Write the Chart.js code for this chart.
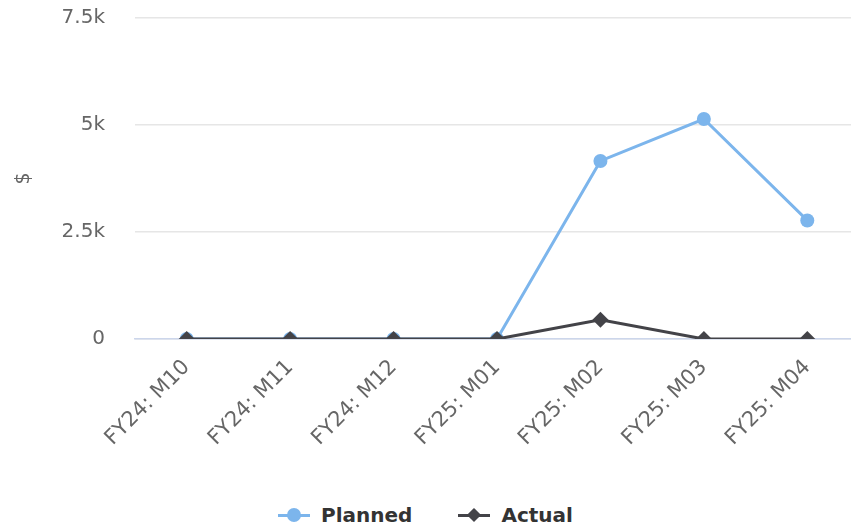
<!DOCTYPE html>
<html>
<head>
<meta charset="utf-8">
<script src="https://cdn.jsdelivr.net/npm/chart.js@4/dist/chart.umd.min.js"></script>
<style>
    body { margin: 0; background: #ffffff; overflow: hidden; }
    #wrap { position: relative; width: 851px; height: 531px; overflow: hidden; }
    /* canvas is a bit larger than the page so the plot area lands where the reference has it */
    #chartBox { position: absolute; left: 0; top: -24px; width: 867px; height: 504px; }
    #legend {
        position: absolute; left: 0; top: 503px; width: 851px;
        display: flex; justify-content: center; gap: 46px;
        font-family: "DejaVu Sans", sans-serif; font-weight: bold; font-size: 20px; color: #333333;
    }
    .item { display: flex; align-items: center; }
    .icon { position: relative; width: 32px; height: 3px; margin-right: 11px; }
    .mark { position: absolute; left: 50%; top: 50%; }
    .circle { width: 14px; height: 14px; border-radius: 50%; margin: -7px 0 0 -7px; }
    .diamond { width: 10px; height: 10px; margin: -5px 0 0 -5px; transform: rotate(45deg); }
</style>
</head>
<body>
<div id="wrap">
    <div id="chartBox"><canvas id="planCanvas"></canvas></div>
    <div id="legend">
        <div class="item"><span class="icon" style="background:#7cb5ec"><span class="mark circle" style="background:#7cb5ec"></span></span>Planned</div>
        <div class="item"><span class="icon" style="background:#434348"><span class="mark diamond" style="background:#434348"></span></span>Actual</div>
    </div>
</div>
<script>
const periods = ["FY24: M10", "FY24: M11", "FY24: M12", "FY25: M01", "FY25: M02", "FY25: M03", "FY25: M04"];
const planned = [0, 0, 0, 0, 4160, 5140, 2770];
const actual = [0, 0, 0, 0, 450, 0, 0];
const yTicks = [0, 2500, 5000, 7500];

const ctx = document.getElementById("planCanvas");

const chart = new Chart(ctx, {
    type: "line",
    data: {
        labels: periods,
        datasets: [
            {
                label: "Planned",
                data: planned,
                borderColor: "#7cb5ec",
                backgroundColor: "#7cb5ec",
                borderWidth: 3,
                pointStyle: "circle",
                pointRadius: 7,
                pointBorderWidth: 0,
                pointBackgroundColor: "#7cb5ec",
                tension: 0,
                order: 1
            },
            {
                label: "Actual",
                data: actual,
                borderColor: "#434348",
                backgroundColor: "#434348",
                borderWidth: 3,
                pointStyle: "rectRot",
                pointRadius: 8,
                pointBorderWidth: 0,
                pointBackgroundColor: "#434348",
                tension: 0,
                order: 0
            }
        ]
    },
    options: {
        responsive: true,
        maintainAspectRatio: false,
        animation: false,
        layout: { padding: 0 },
        plugins: {
            legend: { display: false },
            tooltip: { enabled: false }
        },
        scales: {
            x: {
                offset: true,
                grid: { display: false, drawTicks: false },
                border: { color: "#ccd6eb", width: 1.5 },
                ticks: {
                    color: "#666666",
                    font: { family: "DejaVu Sans", size: 21 },
                    minRotation: 45,
                    maxRotation: 45,
                    padding: 16,
                    autoSkip: false
                },
                afterFit: (scale) => { scale.height = 141; }
            },
            y: {
                min: 0,
                max: 7500,
                afterBuildTicks: (scale) => { scale.ticks = yTicks.map(v => ({ value: v })); },
                grid: { color: "#e6e6e6", lineWidth: 1.5, drawTicks: false },
                border: { display: false },
                ticks: {
                    color: "#666666",
                    font: { family: "DejaVu Sans", size: 20 },
                    padding: 30,
                    callback: (v) => v === 0 ? "0" : (v / 1000) + "k"
                },
                title: {
                    display: true,
                    text: "$",
                    color: "#666666",
                    font: { family: "DejaVu Sans", size: 19 },
                    padding: { top: 13, bottom: 0 }
                },
                afterFit: (scale) => { scale.width = 135; }
            }
        }
    }
});
</script>
</body>
</html>
